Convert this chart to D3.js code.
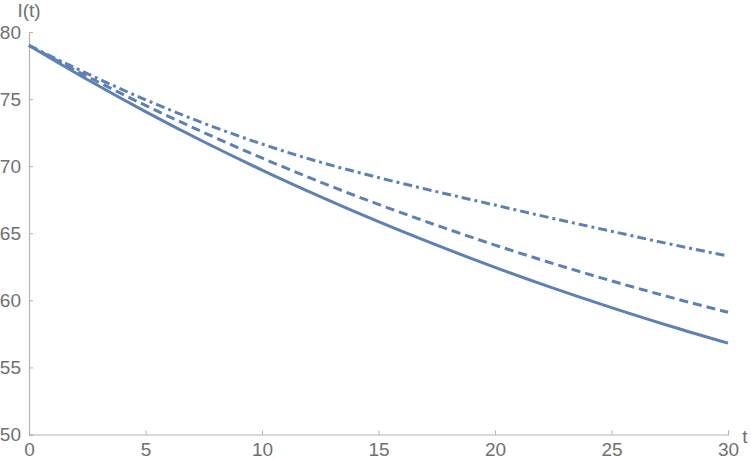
<!DOCTYPE html>
<html>
<head>
<meta charset="utf-8">
<script src="https://cdn.jsdelivr.net/npm/d3@7"></script>
<style>
  html, body { margin: 0; padding: 0; background: #fff; }
  svg { display: block; }
  text { font-family: "Liberation Sans", Arial, sans-serif; }
</style>
</head>
<body>
<svg id="chart" width="751" height="460"></svg>
<script>
const tValues = [0, 2.5, 5, 7.5, 10, 12.5, 15, 17.5, 20, 22.5, 25, 27.5, 30];
const solidSeries   = [79.0, 76.46, 74.07, 71.82, 69.71, 67.73, 65.86, 64.11, 62.46, 60.91, 59.46, 58.09, 56.81];
const dashedSeries  = [79.0, 76.69, 74.53, 72.51, 70.61, 68.82, 67.15, 65.59, 64.12, 62.74, 61.45, 60.24, 59.11];
const dashDotSeries = [79.0, 76.9, 74.95, 73.2, 71.65, 70.3, 69.15, 68.1, 67.1, 66.1, 65.15, 64.2, 63.3];
const xTicks = [0, 5, 10, 15, 20, 25, 30];
const yTicks = [50, 55, 60, 65, 70, 75, 80];
const xLabel = "t";
const yLabel = "I(t)";

const svg = d3.select("#chart");
const x = d3.scaleLinear().domain([0, 30]).range([29, 728]);
const y = d3.scaleLinear().domain([50, 80]).range([434.5, 32]);

const axisColor = "#b4b4b4";
const textColor = "#707070";
const lineColor = "#5e81b5";
const fontSize = 19;

// X axis
const gx = svg.append("g").attr("transform", `translate(0,${y(50)})`)
  .call(d3.axisBottom(x).tickValues(xTicks).tickSize(-4).tickFormat(d3.format("d")));
gx.select(".domain").attr("stroke", axisColor).attr("stroke-width", 1.2);
gx.selectAll(".tick line").attr("stroke", axisColor);
gx.selectAll(".tick text").attr("fill", textColor).attr("font-size", fontSize)
  .attr("y", 21.5).attr("dy", null);

// Y axis
const gy = svg.append("g").attr("transform", `translate(${x(0)},0)`)
  .call(d3.axisLeft(y).tickValues(yTicks).tickSize(-4).tickPadding(8).tickFormat(d3.format("d")));
gy.select(".domain").attr("stroke", axisColor).attr("stroke-width", 1.2);
gy.selectAll(".tick line").attr("stroke", axisColor);
gy.selectAll(".tick text").attr("fill", textColor).attr("font-size", fontSize);

// Axis labels
svg.append("text").attr("x", 29).attr("y", 17).attr("text-anchor", "middle")
  .attr("fill", textColor).attr("font-size", fontSize).text(yLabel);
svg.append("text").attr("x", 745).attr("y", 443).attr("text-anchor", "middle")
  .attr("fill", textColor).attr("font-size", fontSize).text(xLabel);

const line = d3.line().x(d => x(d[0])).y(d => y(d[1])).curve(d3.curveMonotoneX);
const series = [
  { vals: dashDotSeries, dash: "9,4,3,4" },
  { vals: dashedSeries, dash: "9,5" },
  { vals: solidSeries, dash: null }
];
series.forEach(s => {
  const p = svg.append("path")
    .datum(tValues.map((t, i) => [t, s.vals[i]]))
    .attr("d", line)
    .attr("fill", "none")
    .attr("stroke", lineColor)
    .attr("stroke-width", 3);
  if (s.dash) p.attr("stroke-dasharray", s.dash);
});
</script>
</body>
</html>
